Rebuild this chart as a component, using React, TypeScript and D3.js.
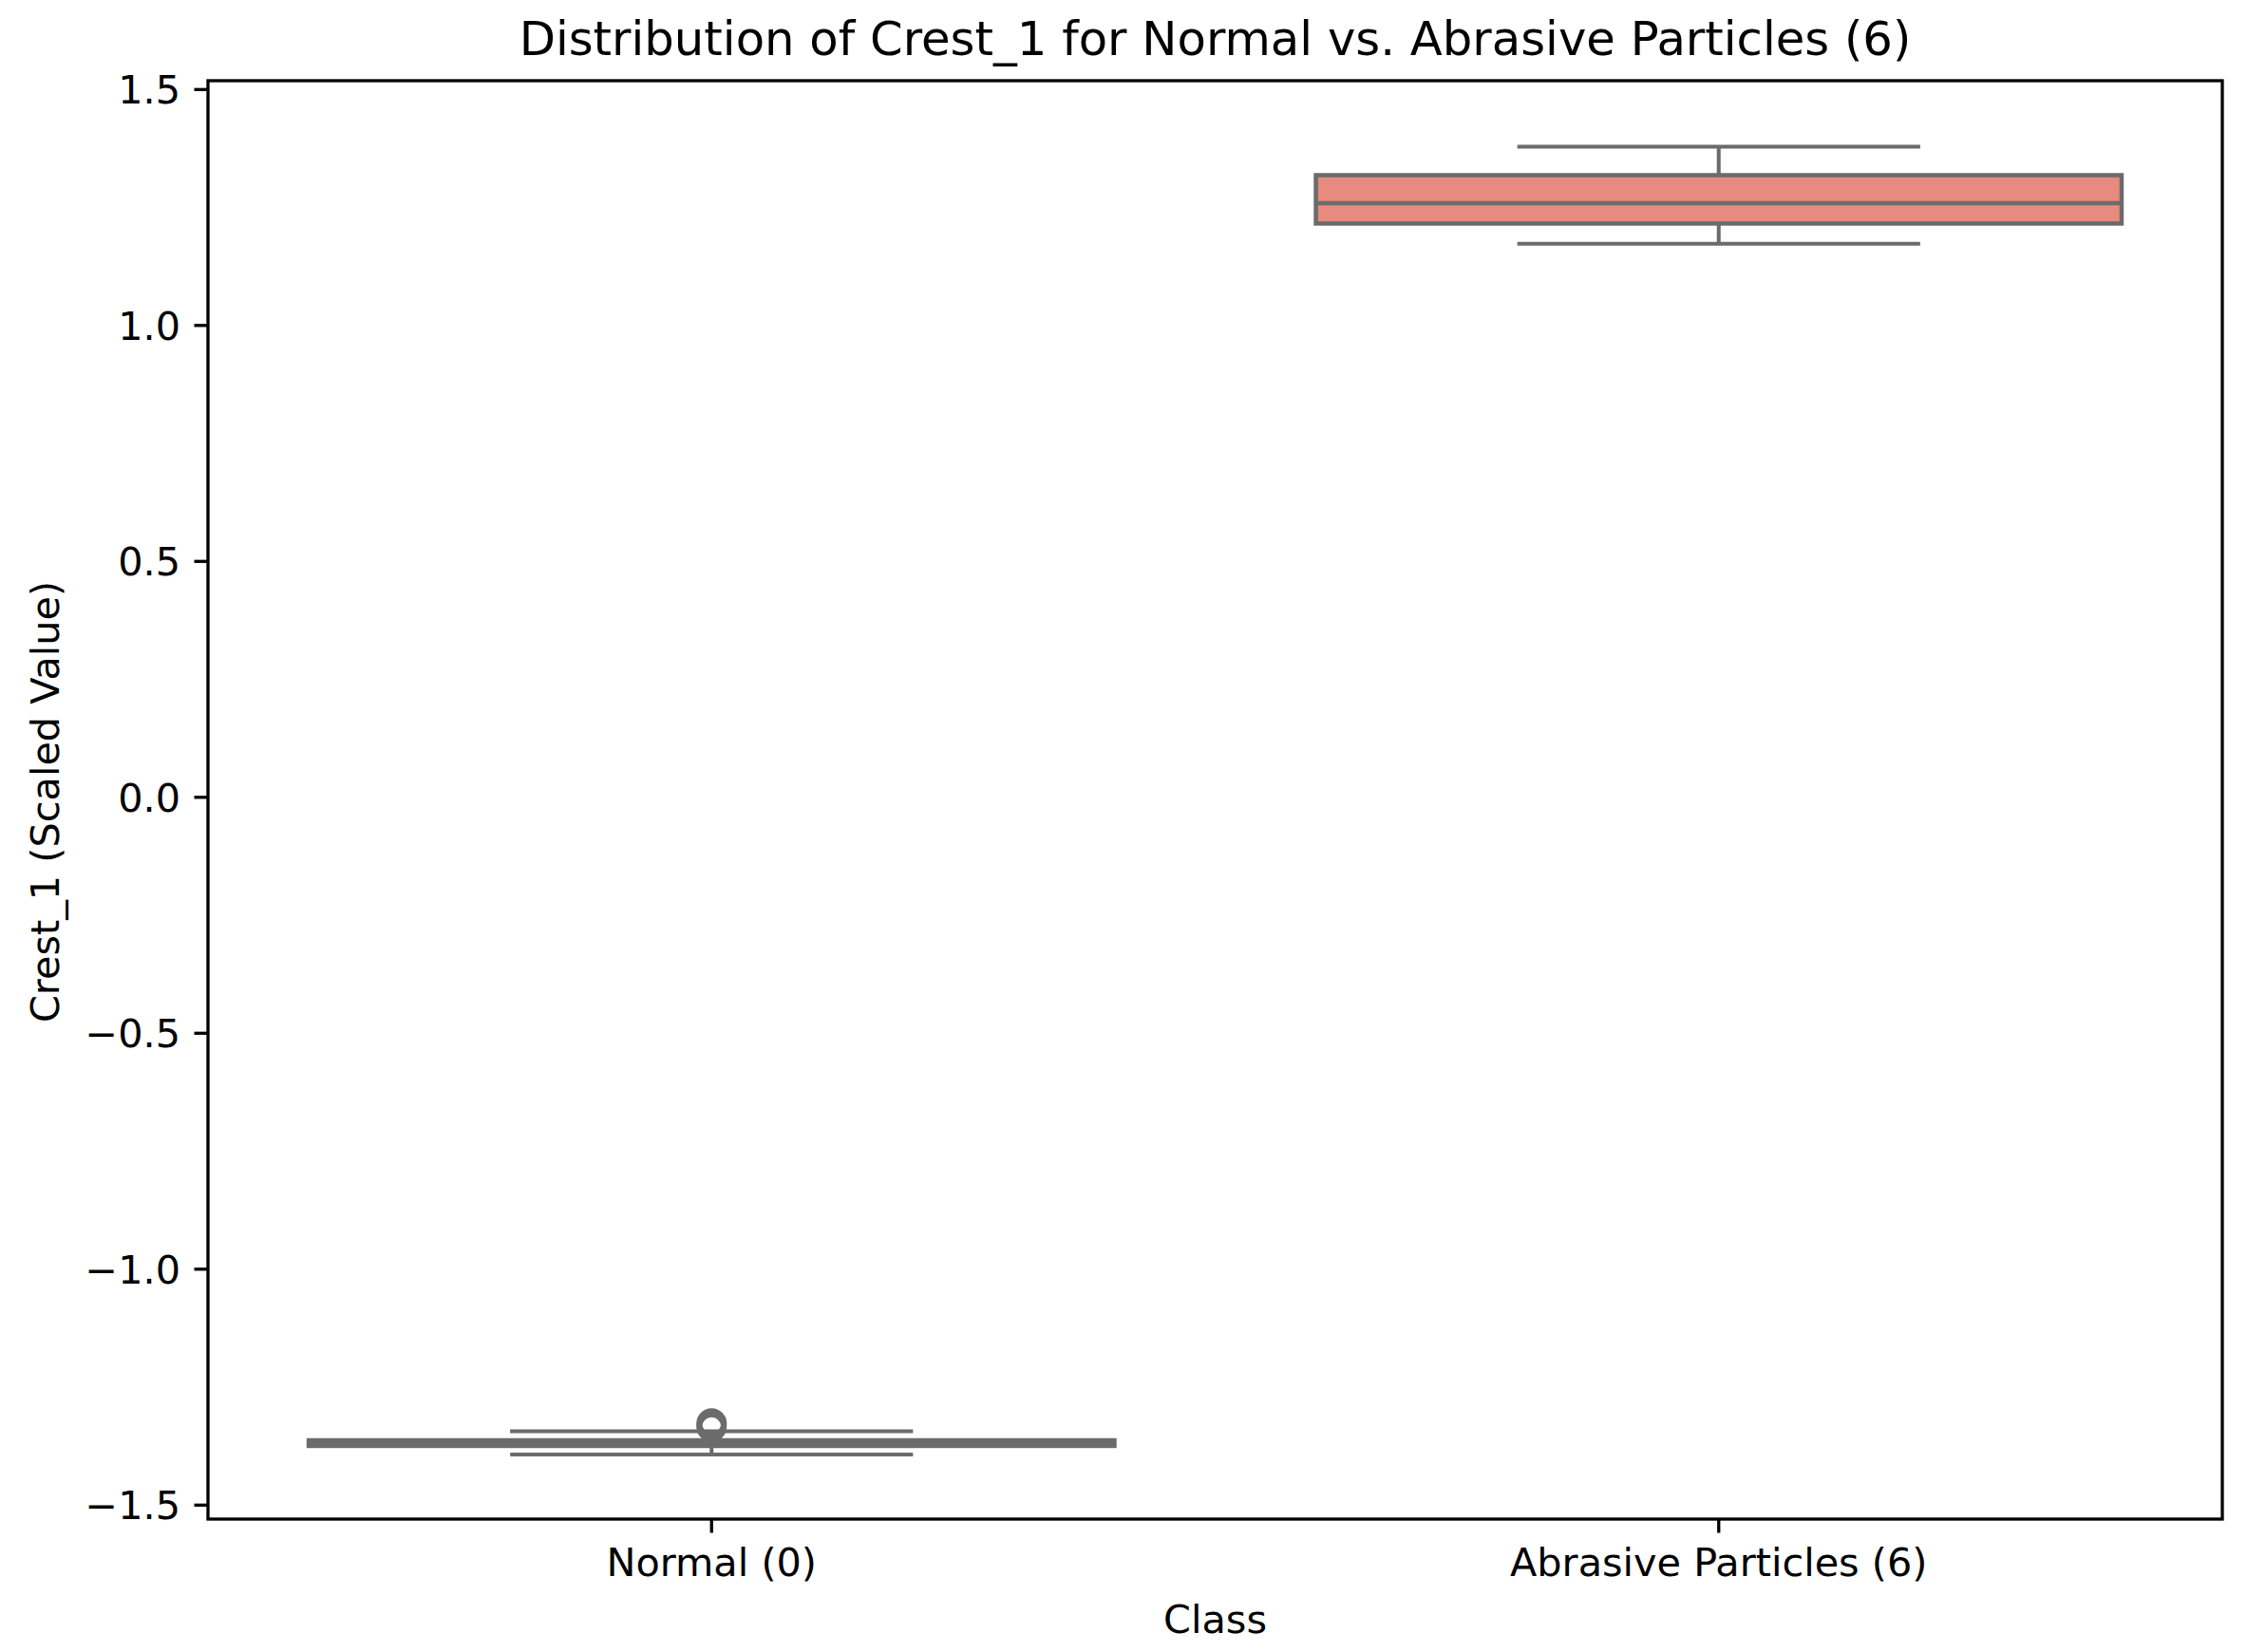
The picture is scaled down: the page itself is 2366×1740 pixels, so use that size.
import React from "react";
import * as d3 from "d3";

const W = 2366;
const H = 1740;

const categories = ["Normal (0)", "Abrasive Particles (6)"];
const whiskerLow = [-1.393, 1.173];
const q1 = [-1.3746, 1.216];
const median = [-1.368, 1.259];
const q3 = [-1.3626, 1.3185];
const whiskerHigh = [-1.3435, 1.379];
const outliers: number[][] = [[-1.327, -1.334], []];
const boxFills = ["#8fb0c9", "#e78a7f"];
const yTicks = [-1.5, -1.0, -0.5, 0.0, 0.5, 1.0, 1.5];

const title = "Distribution of Crest_1 for Normal vs. Abrasive Particles (6)";
const xLabel = "Class";
const yLabel = "Crest_1 (Scaled Value)";

const M = { left: 219, right: 2340, top: 85, bottom: 1600 };
const LINE = "#6b6b6b";
const FONT = "'DejaVu Sans', sans-serif";

export default function App() {
  const y = d3.scaleLinear().domain([-1.5296, 1.5187]).range([M.bottom, M.top]);
  const x = d3.scaleBand<string>().domain(categories).range([M.left, M.right]).padding(0);
  const bw = x.bandwidth();
  const boxW = bw * 0.8;
  const capW = boxW / 2;
  const fmt = (v: number) => (v < 0 ? "\u2212" : "") + Math.abs(v).toFixed(1);

  return (
    <svg width={W} height={H} style={{ position: "absolute", left: 0, top: 0, background: "#fff" }}>
      <rect x={0} y={0} width={W} height={H} fill="#fff" />
      {categories.map((c, i) => {
        const cx = (x(c) as number) + bw / 2;
        return (
          <g key={c}>
            <line x1={cx} x2={cx} y1={y(whiskerHigh[i])} y2={y(q3[i])} stroke={LINE} strokeWidth={4} />
            <line x1={cx} x2={cx} y1={y(q1[i])} y2={y(whiskerLow[i])} stroke={LINE} strokeWidth={4} />
            <line x1={cx - capW / 2} x2={cx + capW / 2} y1={y(whiskerHigh[i])} y2={y(whiskerHigh[i])} stroke={LINE} strokeWidth={4} />
            <line x1={cx - capW / 2} x2={cx + capW / 2} y1={y(whiskerLow[i])} y2={y(whiskerLow[i])} stroke={LINE} strokeWidth={4} />
            {outliers[i].map((o, j) => (
              <circle key={j} cx={cx} cy={y(o)} r={13} fill="none" stroke={LINE} strokeWidth={6} />
            ))}
            <rect
              x={cx - boxW / 2}
              y={y(q3[i])}
              width={boxW}
              height={Math.max(0, y(q1[i]) - y(q3[i]))}
              fill={boxFills[i]}
              stroke={LINE}
              strokeWidth={4.5}
            />
            <line x1={cx - boxW / 2} x2={cx + boxW / 2} y1={y(median[i])} y2={y(median[i])} stroke={LINE} strokeWidth={4.5} />
          </g>
        );
      })}
      {/* frame */}
      <rect x={M.left} y={M.top} width={M.right - M.left} height={M.bottom - M.top} fill="none" stroke="#000" strokeWidth={3.3} />
      {/* y ticks */}
      {yTicks.map((t) => (
        <g key={t}>
          <line x1={M.left - 14.5} x2={M.left} y1={y(t)} y2={y(t)} stroke="#000" strokeWidth={3.3} />
          <text x={M.left - 29} y={y(t) + 15} textAnchor="end" fontFamily={FONT} fontSize={41.4} fill="#000">
            {fmt(t)}
          </text>
        </g>
      ))}
      {/* x ticks */}
      {categories.map((c) => {
        const cx = (x(c) as number) + bw / 2;
        return (
          <g key={c}>
            <line x1={cx} x2={cx} y1={M.bottom} y2={M.bottom + 14.5} stroke="#000" strokeWidth={3.3} />
            <text x={cx} y={1660} textAnchor="middle" fontFamily={FONT} fontSize={41.4} fill="#000">
              {c}
            </text>
          </g>
        );
      })}
      <text x={(M.left + M.right) / 2} y={1720} textAnchor="middle" fontFamily={FONT} fontSize={41.4} fill="#000">
        {xLabel}
      </text>
      <text
        transform={`translate(62, ${(M.top + M.bottom) / 2 + 2}) rotate(-90)`}
        textAnchor="middle"
        fontFamily={FONT}
        fontSize={41.4}
        fill="#000"
      >
        {yLabel}
      </text>
      <text x={(M.left + M.right) / 2} y={58} textAnchor="middle" fontFamily={FONT} fontSize={49.7} fill="#000">
        {title}
      </text>
    </svg>
  );
}
